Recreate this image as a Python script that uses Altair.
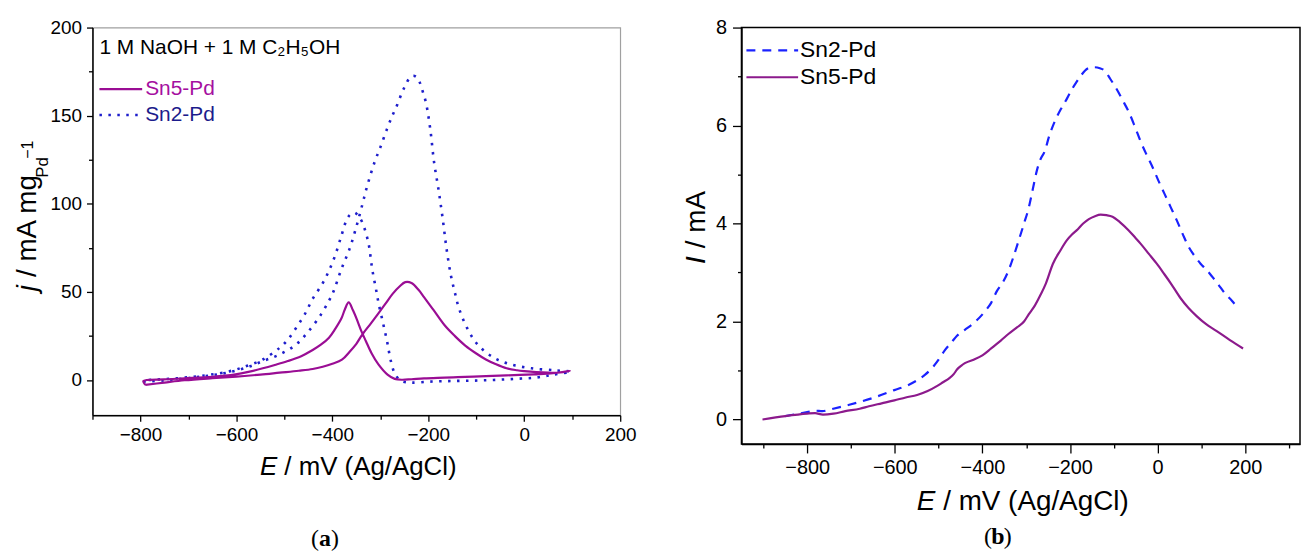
import altair as alt
import pandas as pd

# ---------------- panel (a): cyclic voltammograms ----------------
# Sn5-Pd: forward scan then backward scan (one closed loop)
a_sn5_E = [-790, -750, -708, -650, -600, -550, -510, -470, -441, -420,
           -400, -380, -364, -350, -338, -320, -304, -290, -274, -260,
           -248, -235, -220, -209, -190, -166, -145, -123, -100, -80,
           -60, -37, -15, 0, 25, 50, 75, 95,
           60, 20, -37, -80, -123, -166, -209, -235, -255, -270,
           -285, -304, -318, -330, -340, -347, -357, -366, -374, -381,
           -394, -407, -424, -441, -465, -493, -520, -545, -575, -602,
           -650, -708, -750, -794, -790]
a_sn5_j = [-2.8, -1.5, -0.2, 1.0, 1.9, 3.0, 4.1, 5.2, 6.2, 7.5,
           9.2, 11.5, 16, 20.5, 25.6, 32, 37.8, 43, 49, 53,
           55.5, 55, 51, 47, 40, 31, 25, 19.5, 15, 11.6,
           9, 6.6, 5.5, 5.0, 4.4, 4.1, 4.2, 5.2,
           3.8, 3.2, 2.6, 2.2, 1.7, 1.3, 0.9, 0.4, 0.1, 0.6,
           3.0, 8.8, 15, 22, 28, 33, 39.5, 44, 40, 35,
           29, 24, 20, 17, 13.5, 10.7, 8.5, 6.6, 4.6, 3.2,
           1.8, 0.9, 0.3, -0.6, -2.8]

# Sn2-Pd: forward scan then backward scan
a_sn2_E = [-794, -751, -708, -665, -622, -579, -545, -510, -476, -450,
           -424, -407, -398, -381, -364, -351, -338, -329, -312, -300,
           -286, -275, -265, -255, -248, -240, -232, -225, -218, -212,
           -205, -196, -188, -179, -170, -162, -153, -145, -136, -119,
           -97, -63, -28, 15, 66, 97,
           60, 23, -20, -63, -106, -149, -192, -235, -256, -269,
           -278, -286, -295, -304, -308, -317, -325, -338, -347, -354,
           -364, -372, -381, -394, -407, -420, -441, -458, -476, -493,
           -510, -545, -579, -613, -665, -725, -794]
a_sn2_j = [-1.0, -0.3, 0.8, 2.2, 4.0, 7.0, 10.7, 14.4, 20, 27.5,
           37, 45, 50, 63, 74.5, 86, 99, 108.5, 123.6, 132,
           142.5, 150, 156, 163, 167, 171, 172.6, 172, 169, 164,
           157.5, 142.5, 123.6, 108.5, 91.5, 74.5, 59.4, 50, 40.6, 29.4,
           20, 12.5, 8.8, 6.6, 5.4, 4.7,
           3.0, 1.3, 0.6, 0.0, -0.4, -0.6, -0.9, -1.5, -0.6, 3.2,
           10.7, 22, 33, 44, 50, 63, 78, 89.6, 93.5, 95,
           93.5, 89.6, 82, 70.8, 62, 55, 46, 37, 29.4, 22.8,
           18.2, 11.6, 7.9, 5.0, 2.6, 0.9, -0.2]

# ---------------- panel (b): linear sweeps ----------------
b_sn2_E = [-850, -800, -782, -765, -750, -704, -650, -601, -570, -549,
           -530, -513, -500, -486, -470, -458, -440, -422, -394, -380,
           -367, -352, -340, -328, -317, -305, -294, -285, -276, -268,
           -258, -247, -235, -220, -207, -195, -185, -175, -166, -155,
           -144, -132, -121, -108, -94, -80, -66, -52, -39, -25,
           -11, 2, 16, 30, 44, 57, 71, 85, 98, 112,
           125, 139, 153, 170, 185]
b_sn2_I = [0.07, 0.15, 0.18, 0.17, 0.2, 0.3, 0.44, 0.6, 0.7, 0.8,
           0.92, 1.07, 1.22, 1.41, 1.58, 1.71, 1.83, 1.95, 2.21, 2.38,
           2.62, 2.82, 3.05, 3.35, 3.66, 4.0, 4.33, 4.7, 5.07, 5.3,
           5.47, 5.8, 6.08, 6.35, 6.55, 6.75, 6.89, 7.02, 7.12, 7.18,
           7.19, 7.17, 7.12, 6.95, 6.75, 6.52, 6.28, 5.98, 5.68, 5.4,
           5.14, 4.87, 4.6, 4.33, 4.06, 3.79, 3.52, 3.33, 3.18, 3.05,
           2.91, 2.75, 2.58, 2.42, 2.25]

b_sn5_E = [-902, -850, -800, -782, -764, -740, -713, -680, -659, -630,
           -601, -575, -549, -525, -504, -490, -476, -465, -458, -448,
           -440, -420, -400, -380, -358, -340, -321, -305, -294, -280,
           -267, -255, -239, -222, -207, -195, -185, -170, -157, -143,
           -130, -117, -103, -85, -66, -50, -39, -20, -2, 15,
           30, 52, 70, 89, 110, 134, 165, 195]
b_sn5_I = [0.0, 0.07, 0.12, 0.13, 0.10, 0.12, 0.17, 0.22, 0.27, 0.33,
           0.39, 0.45, 0.5, 0.58, 0.68, 0.76, 0.84, 0.93, 1.02, 1.1,
           1.15, 1.22, 1.31, 1.45, 1.61, 1.75, 1.88, 2.0, 2.15, 2.33,
           2.55, 2.78, 3.18, 3.45, 3.66, 3.78, 3.86, 4.0, 4.09, 4.15,
           4.18, 4.17, 4.14, 4.02, 3.86, 3.7, 3.59, 3.38, 3.18, 2.97,
           2.78, 2.48, 2.28, 2.11, 1.95, 1.81, 1.62, 1.45]

series_names = ["Sn5-Pd", "Sn2-Pd"]
annotation = "1 M NaOH + 1 M C\u2082H\u2085OH"

FONT = "Liberation Sans, Arial, Helvetica, sans-serif"
SERIF = "Liberation Serif, Times New Roman, serif"

PURPLE_A, PURPLE_A_TXT = "#9a0d94", "#a50fa0"
BLUE_A, BLUE_A_TXT = "#1e1ecc", "#1c1c8c"
PURPLE_B, BLUE_B = "#8c1a8c", "#1a22ff"


def make_df(name, E, v, col):
    return pd.DataFrame({"series": [name] * len(E), "E": E, col: v,
                         "idx": list(range(len(E)))})


one = pd.DataFrame({"k": [0]})


def txt(text, x, y, size, style="normal", weight="normal", angle=None,
        align="left", baseline="alphabetic", font=FONT, color="#000000"):
    props = dict(text=text, fontSize=size, fontStyle=style, fontWeight=weight,
                 align=align, baseline=baseline, font=font, color=color)
    if angle is not None:
        props["angle"] = angle
    return alt.Chart(one).mark_text(**props).encode(x=alt.value(x), y=alt.value(y))


def seg(x1, x2, y, color, width, dash):
    return alt.Chart(one).mark_rule(color=color, strokeWidth=width, strokeDash=dash).encode(
        x=alt.value(x1), x2=alt.value(x2), y=alt.value(y))


def make_axis(values, major, tmaj, tmin, size, pad):
    return alt.Axis(
        values=values,
        labelExpr=f"datum.value % {major} === 0 ? format(datum.value, 'd') : ''",
        tickSize={"condition": {"test": f"datum.value % {major} === 0", "value": tmaj}, "value": tmin},
        labelFontSize=size, labelFont=FONT, labelColor="#000000",
        domainColor="#000000", tickColor="#000000", domainWidth=1.5, tickWidth=1.3,
        grid=False, labelPadding=pad, labelOverlap=False, labelFlush=False, title=None)


# ---------- panel (a) ----------
WA, HA = 531, 390
xa = alt.X("E:Q", scale=alt.Scale(domain=[-900, 200], nice=False, zero=False),
           axis=make_axis(list(range(-900, 201, 100)), 200, 6, 4, 19, 4))
ya = alt.Y("j:Q", scale=alt.Scale(domain=[-20, 200], nice=False, zero=False),
           axis=make_axis(list(range(0, 201, 25)), 50, 6, 4, 19, 5))

df_a5 = make_df(series_names[0], a_sn5_E, a_sn5_j, "j")
df_a2 = make_df(series_names[1], a_sn2_E, a_sn2_j, "j")

line_a2 = alt.Chart(df_a2).mark_line(color=BLUE_A, strokeWidth=2.6, strokeDash=[2.5, 6.5],
                                     interpolate="catmull-rom").encode(
    x=xa, y=ya, order=alt.Order("idx:Q"))
line_a5 = alt.Chart(df_a5).mark_line(color=PURPLE_A, strokeWidth=2.2,
                                     interpolate="catmull-rom").encode(
    x=xa, y=ya, order=alt.Order("idx:Q"))

panel_a = alt.layer(
    line_a2, line_a5,
    txt(annotation, 7, 27, 21),
    seg(7, 50, 62, PURPLE_A, 2.2, [1, 0]),
    txt(series_names[0], 53, 62, 21, baseline="middle", color=PURPLE_A_TXT),
    seg(7, 50, 88, BLUE_A, 2.6, [2.5, 6.5]),
    txt(series_names[1], 53, 88, 21, baseline="middle", color=BLUE_A_TXT),
    # y title: j / mA mg_Pd^-1
    txt("j", -57, 259, 28, style="italic", angle=270, align="right"),
    txt("/ mA mg", -57, 251, 28, angle=270, align="left"),
    txt("Pd", -45, 151, 17, angle=270, align="left"),
    txt("\u22121", -60, 132, 16, angle=270, align="left"),
    # x title
    txt("E", 186, 450, 26, style="italic", align="right"),
    txt("/ mV (Ag/AgCl)", 193, 450, 26, align="left"),
    # panel label
    txt("(", 228, 522, 24, font=SERIF, align="right"),
    txt("a", 234, 522, 24, font=SERIF, weight="bold", align="center"),
    txt(")", 240, 522, 24, font=SERIF, align="left"),
).properties(width=WA, height=HA,
             view=alt.ViewBackground(stroke="#a0a0a0", strokeWidth=1.2))

# ---------- panel (b) ----------
WB, HB = 562, 419
xb = alt.X("E:Q", scale=alt.Scale(domain=[-950, 325], nice=False, zero=False),
           axis=make_axis(list(range(-900, 301, 100)), 200, 9, 4, 20, 5))
yb = alt.Y("I:Q", scale=alt.Scale(domain=[-0.5, 8], nice=False, zero=False),
           axis=make_axis(list(range(0, 9, 1)), 2, 9, 4, 20, 6))

df_b2 = make_df(series_names[1], b_sn2_E, b_sn2_I, "I")
df_b5 = make_df(series_names[0], b_sn5_E, b_sn5_I, "I")

line_b2 = alt.Chart(df_b2).mark_line(color=BLUE_B, strokeWidth=2.2, strokeDash=[9, 7],
                                     interpolate="monotone").encode(
    x=xb, y=yb, order=alt.Order("idx:Q"))
line_b5 = alt.Chart(df_b5).mark_line(color=PURPLE_B, strokeWidth=2.2,
                                     interpolate="monotone").encode(
    x=xb, y=yb, order=alt.Order("idx:Q"))

panel_b = alt.layer(
    line_b2, line_b5,
    seg(5, 57, 23, BLUE_B, 2.2, [9, 7]),
    txt(series_names[1], 59, 23, 23, baseline="middle"),
    seg(5, 57, 50, PURPLE_B, 2.2, [1, 0]),
    txt(series_names[0], 59, 50, 23, baseline="middle"),
    # y title: I / mA
    txt("I", -37, 230, 28, style="italic", angle=270, align="right"),
    txt("/ mA", -37, 222, 28, angle=270, align="left"),
    # x title
    txt("E", 195, 485, 28, style="italic", align="right"),
    txt("/ mV (Ag/AgCl)", 203, 485, 28, align="left"),
    # panel label
    txt("(", 252, 520, 24, font=SERIF, align="right"),
    txt("b", 258, 520, 24, font=SERIF, weight="bold", align="center"),
    txt(")", 264, 520, 24, font=SERIF, align="left"),
).properties(width=WB, height=HB,
             view=alt.ViewBackground(stroke="#000000", strokeWidth=1.5))

chart = alt.hconcat(panel_a, panel_b, spacing=45).properties(
    padding={"left": 5, "top": 7, "right": 0, "bottom": 0}
).configure(font=FONT)

chart.save("out.html", embed_options={"renderer": "svg", "actions": False})
